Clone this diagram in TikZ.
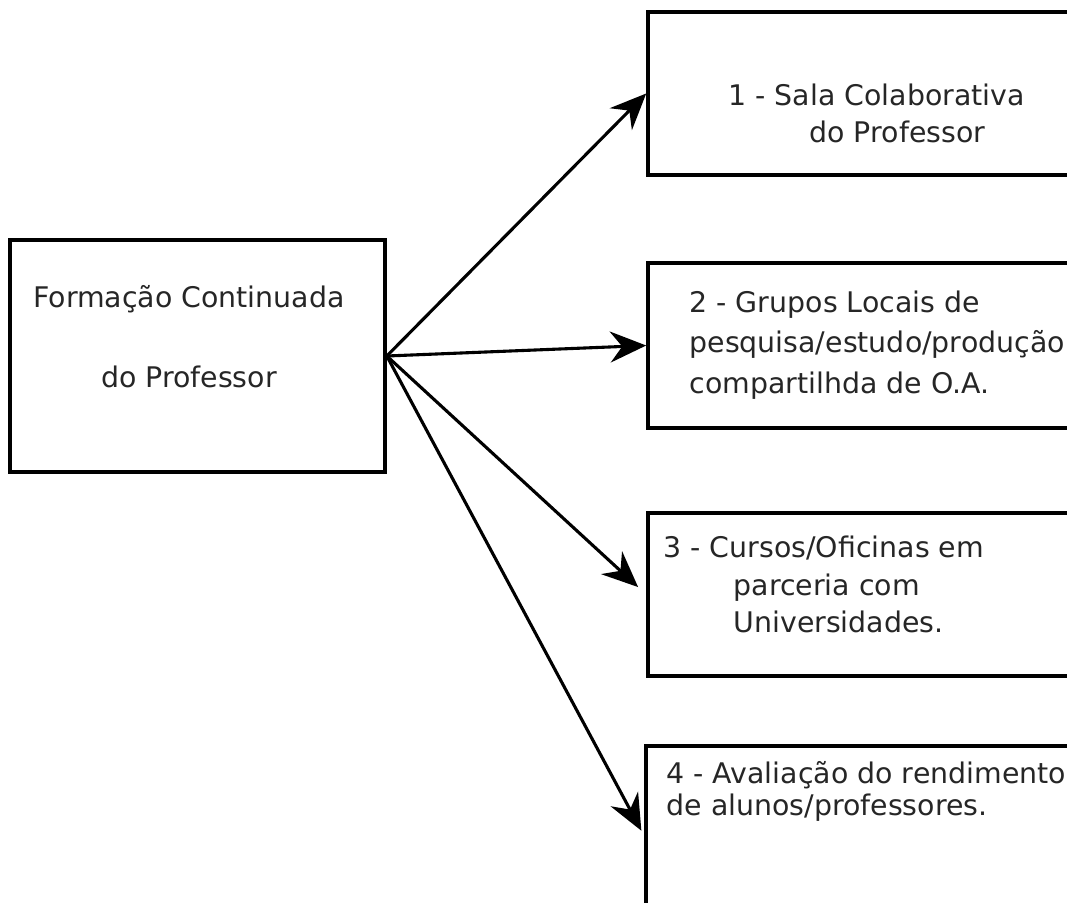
\documentclass[tikz,border=0pt]{standalone}
\usepackage{fontspec}
\setmainfont{DejaVu Sans}
\usetikzlibrary{arrows.meta,positioning}

\begin{document}
\begin{tikzpicture}[
x=1pt, y=-1pt, % pixel grid of the drawing, y downwards
>={Stealth[length=36pt,width=31pt,inset=12pt]},
line width=3.1pt,
box/.style={draw, line width=3.6pt, inner sep=0pt},
txt/.style={text=black!85, font=\fontsize{28.4}{37}\selectfont, inner sep=0pt, anchor=base west, align=left}
]
\useasboundingbox (0,0) rectangle (1067,902);
\clip (0,0) rectangle (1067,902);

% ================= Boxes =================
\node[box, minimum width=375pt, minimum height=232pt] (formacao) at (197.5,356) {};
\node[box, minimum width=470pt, minimum height=163pt] (sala) at (883,93.5) {};
\node[box, minimum width=470pt, minimum height=165pt] (grupos) at (883,345.5) {};
\node[box, minimum width=470pt, minimum height=163pt] (cursos) at (883,594.5) {};
\node[box, minimum width=470pt, minimum height=180pt] (avaliacao) at (881,836) {};

% ================= Texts =================
% (the base anchor of these nodes sits on their last line)
\node[txt, anchor=base, align=center] (formacaotxt) at (189,387) {Formação Continuada\\[43pt]do Professor};
\node[txt] (salatxt) at (727,142) {1 - Sala Colaborativa\\\hspace*{81pt}do Professor};
\node[txt] (grupostxt) at (688,393) {2 - Grupos Locais de\\[3.5pt]pesquisa/estudo/produção\\[3.5pt]compartilhda de O.A.};
\node[txt] (cursostxt) at (662,632) {3 - Cursos/Oficinas em\\[1pt]\hspace*{70pt}parceria com\\\hspace*{70pt}Universidades.};
\node[txt] (avaliacaotxt) at (665,815) {4 - Avaliação do rendimento\\[-5pt]de alunos/professores.};

% ================= Arrows =================
\draw[->] (formacao.east) -- (sala.west);
\draw[->] (formacao.east) -- (grupos.west);
\draw[->, shorten >=11pt] (formacao.east) -- (cursos.west);
\draw[->, shorten >=6pt] (formacao.east) -- (avaliacao.west);

\end{tikzpicture}
\end{document}
